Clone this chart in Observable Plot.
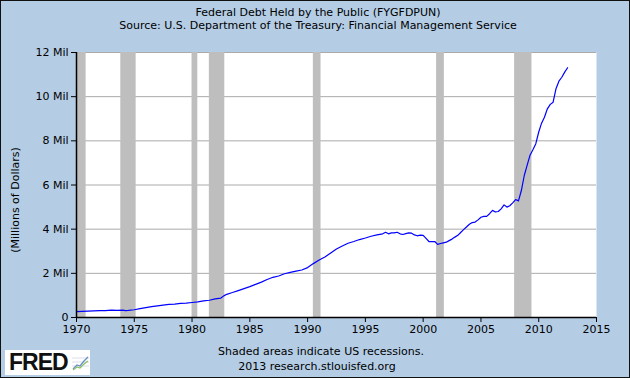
<!DOCTYPE html>
<html>
<head>
<meta charset="utf-8">
<script src="https://cdn.jsdelivr.net/npm/d3@7"></script>
<script src="https://cdn.jsdelivr.net/npm/@observablehq/plot@0.6"></script>
<style>
  html, body { margin: 0; padding: 0; background: #b4cde5; }
  #wrap { position: relative; width: 630px; height: 378px; background: #b4cde5; overflow: hidden;
          font-family: "DejaVu Sans", Verdana, sans-serif; color: #000; }
  #border { position: absolute; left: 0; top: 0; width: 628px; height: 376px; border: 1px solid #111; pointer-events: none; }
  .t { position: absolute; left: 3px; width: 630px; text-align: center; font-size: 11px; line-height: 13px; white-space: nowrap; }
  #ylab { position: absolute; left: 15px; top: 200px; font-size: 11px; line-height: 13px; white-space: nowrap;
          transform: translate(-50%, -50%) rotate(-90deg); }
  #chart { position: absolute; left: 0; top: 0; }
  #fred { position: absolute; left: 5px; top: 350px; width: 85px; height: 25px; background: #fff; }
  #fred span { position: absolute; left: 4px; top: 0px; font-family: "Liberation Sans", Arial, sans-serif; font-weight: bold;
               font-size: 23px; line-height: 25px; letter-spacing: -1px; color: #111; }
  #fred svg { position: absolute; left: 67px; top: 4px; }
</style>
</head>
<body>
<div id="wrap">
  <div id="chart"></div>
  <div class="t" style="top:6px;">Federal Debt Held by the Public (FYGFDPUN)</div>
  <div class="t" style="top:19px;">Source: U.S. Department of the Treasury: Financial Management Service</div>
  <div id="ylab">(Millions of Dollars)</div>
  <div class="t" style="top:345px; left:6px;">Shaded areas indicate US recessions.</div>
  <div class="t" style="top:360px; left:2px;">2013 research.stlouisfed.org</div>
  <div id="fred"><span>FRED</span>
    <svg width="17" height="17" viewBox="0 0 17 17">
      <rect x="0" y="0" width="17" height="17" fill="#fff"/>
      <path d="M0 4H17M0 8H17M0 12H17" stroke="#dde" stroke-width="1"/>
      <polyline points="1,15 5,11 8,12 12,7 16,3" fill="none" stroke="#6a8fc8" stroke-width="1.3"/>
      <polyline points="1,16 5,13 8,14 12,10 16,7" fill="none" stroke="#8cc06a" stroke-width="1.3"/>
    </svg>
  </div>
  <div id="border"></div>
</div>
<script>
// Quarterly-ish observations; values in "Mil" (millions of millions of dollars)
const dates = [
  "1970-01","1970-07","1971-01","1971-07","1972-01","1972-07","1973-01","1973-07","1974-01","1974-04","1974-07",
  "1975-01","1975-07","1976-01","1976-07","1977-01","1977-07","1978-01","1978-07","1979-01","1979-07",
  "1980-01","1980-07","1981-01","1981-07","1982-01","1982-07","1982-10","1983-01","1983-07","1984-01","1984-07",
  "1985-01","1985-07","1986-01","1986-07","1987-01","1987-07","1988-01","1988-07","1989-01","1989-07",
  "1990-01","1990-07","1991-01","1991-07","1992-01","1992-07","1993-01","1993-07","1994-01","1994-07",
  "1995-01","1995-07","1996-01","1996-07","1996-10","1997-01","1997-04","1997-07","1997-10",
  "1998-01","1998-04","1998-07","1998-10","1999-01","1999-04","1999-07","1999-10",
  "2000-01","2000-04","2000-07","2000-10","2001-01","2001-04","2001-07","2001-10",
  "2002-01","2002-04","2002-07","2002-10","2003-01","2003-04","2003-07","2003-10",
  "2004-01","2004-04","2004-07","2004-10","2005-01","2005-04","2005-07","2005-10",
  "2006-01","2006-04","2006-07","2006-10","2007-01","2007-04","2007-07","2007-10",
  "2008-01","2008-04","2008-07","2008-10","2009-01","2009-04","2009-07","2009-10",
  "2010-01","2010-04","2010-07","2010-10","2011-01","2011-04","2011-07","2011-10",
  "2012-01","2012-04","2012-07"
];
const debt = [
  0.27,0.28,0.29,0.30,0.31,0.31,0.33,0.32,0.33,0.31,0.32,
  0.35,0.40,0.45,0.49,0.53,0.56,0.59,0.61,0.64,0.65,
  0.68,0.71,0.75,0.78,0.84,0.88,0.98,1.05,1.13,1.22,1.31,
  1.40,1.50,1.60,1.72,1.82,1.88,1.98,2.04,2.10,2.15,
  2.26,2.44,2.60,2.74,2.92,3.10,3.24,3.36,3.44,3.53,
  3.60,3.68,3.74,3.79,3.86,3.79,3.83,3.83,3.86,
  3.79,3.76,3.80,3.83,3.82,3.74,3.70,3.73,
  3.72,3.58,3.44,3.44,3.44,3.31,3.35,3.38,
  3.41,3.48,3.55,3.64,3.72,3.85,3.98,4.10,
  4.22,4.30,4.32,4.42,4.54,4.58,4.58,4.70,
  4.85,4.78,4.80,4.92,5.10,5.00,5.06,5.19,
  5.34,5.28,5.75,6.43,6.90,7.35,7.60,7.87,
  8.40,8.80,9.07,9.45,9.65,9.75,10.36,10.70,
  10.88,11.11,11.31
];
const recStart = ["1969-12","1973-11","1980-01","1981-07","1990-07","2001-03","2007-12"];
const recEnd   = ["1970-11","1975-03","1980-07","1982-11","1991-03","2001-11","2009-06"];
const yTicks = [0, 2, 4, 6, 8, 10, 12];
const xTickYears = [1970, 1975, 1980, 1985, 1990, 1995, 2000, 2005, 2010, 2015];

const parse = d3.utcParse("%Y-%m");
const series = dates.map((d, i) => ({date: parse(d), value: debt[i]}));
const recessions = recStart.map((s, i) => ({start: parse(s), end: parse(recEnd[i])}));
const xTicks = xTickYears.map(y => new Date(Date.UTC(y, 0, 1)));
const x0 = xTicks[0], x1 = xTicks[xTicks.length - 1];

const chart = Plot.plot({
  width: 630,
  height: 378,
  marginTop: 52,
  marginBottom: 61,
  marginLeft: 76,
  marginRight: 34,
  style: {fontFamily: "DejaVu Sans, Verdana, sans-serif", fontSize: "11px", background: "transparent", color: "#000", overflow: "visible"},
  x: {type: "utc", domain: [x0, x1]},
  y: {domain: [0, 12]},
  marks: [
    Plot.frame({fill: "#fff", stroke: null}),
    Plot.gridY(yTicks, {stroke: "#aaaaaa", strokeOpacity: 1, strokeWidth: 1}),
    Plot.rect(recessions, {x1: "start", x2: "end", fill: "#bebebe", clip: true}),
    Plot.line(series, {x: "date", y: "value", stroke: "#0000ff", strokeWidth: 1.2, clip: true}),
    Plot.axisY(yTicks, {tickSize: 5, tickPadding: 3, stroke: "#000", tickFormat: d => d === 0 ? "0" : `${d} Mil`, label: null}),
    Plot.axisX(xTicks, {tickSize: 5, tickPadding: 3, stroke: "#000", tickFormat: d3.utcFormat("%Y"), label: null}),
    Plot.ruleX([x0], {stroke: "#000", strokeWidth: 1.5}),
    Plot.ruleY([0], {stroke: "#000", strokeWidth: 1.5})
  ]
});
document.getElementById("chart").appendChild(chart);
</script>
</body>
</html>
